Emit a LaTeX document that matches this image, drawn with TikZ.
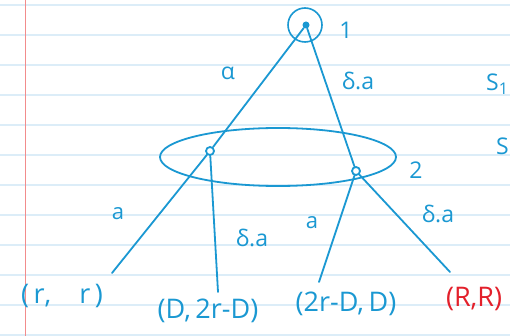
\documentclass[tikz,border=0pt]{standalone}
\usepackage{fontspec}
\setmainfont{Open Sans}
\definecolor{ink}{HTML}{1A98D2}
\definecolor{redink}{HTML}{E3202B}
\definecolor{rule}{HTML}{DCEDF8}
\definecolor{margin}{HTML}{F28C8C}
\tikzset{
  pen/.style={draw=ink, line width=1.8pt, line cap=round},
  lbl/.style={text=ink, font=\fontsize{23}{23}\selectfont, inner sep=0pt},
  small/.style={text=ink, font=\fontsize{22}{22}\selectfont, inner sep=0pt},
  leaf/.style={text=ink, font=\fontsize{27}{27}\selectfont, inner sep=0pt},
  vert/.style={circle, draw=ink, line width=1.8pt, minimum size=8pt, inner sep=0pt},
}
\begin{document}
\begin{tikzpicture}[x=1pt,y=-1pt]
\useasboundingbox (0,0) rectangle (510,336);
\fill[white] (0,0) rectangle (510,336);
% ruled paper
\foreach \y in {5,35,...,335} \draw[rule, line width=1.2pt] (0,\y) -- (510,\y);
\draw[margin, line width=1pt] (25,0) -- (25,336);
% root
\node[circle, fill=ink, minimum size=7pt, inner sep=0pt] (n1) at (306,25) {};
\node[circle, draw=ink, line width=1.6pt, minimum size=34pt, inner sep=0pt] (n1ring) at (305,25) {};
\node[lbl] (t1) at (346,30) {1};
% level set
\draw[pen] (278,157) ellipse (118 and 29);
\node[vert] (nL) at (210,151) {};
\node[vert] (nR) at (356,171) {};
\node[lbl] (t2) at (416,170) {2};
% edges from root
\draw[pen] (n1) -- (nL);
\draw[pen] (n1) -- (nR);
\node[lbl] (ea) at (228,73) {α};
\node[lbl] (eb) at (358,81) {δ.a};
% S labels
\node[lbl, anchor=west] (s1) at (486,84) {S\textsubscript{1}};
\node[lbl, anchor=west] (s2) at (496,146) {S};
% leaves
\coordinate (l1) at (112,273);
\coordinate (l2) at (218,292);
\coordinate (l3) at (319,282);
\coordinate (l4) at (450,272);
\draw[pen] (nL) -- (l1);
\draw[pen] (nL) -- (l2);
\draw[pen] (nR) -- (l3);
\draw[pen] (nR) -- (l4);
\node[small] (ec) at (118,214) {a};
\node[lbl] (ed) at (252,238) {δ.a};
\node[small] (ee) at (312,223) {a};
\node[lbl] (ef) at (438,214) {δ.a};
% outcomes
\node[leaf] (o1) at (62,296) {(\,r,\ \ \ \ r\,)};
\node[leaf] (o2) at (208,311) {(D,\,2r-D)};
\node[leaf] (o3) at (346,304) {(2r-D,\,D)};
\node[leaf, text=redink] (o4) at (474,299) {(R,R)};
\end{tikzpicture}
\end{document}
